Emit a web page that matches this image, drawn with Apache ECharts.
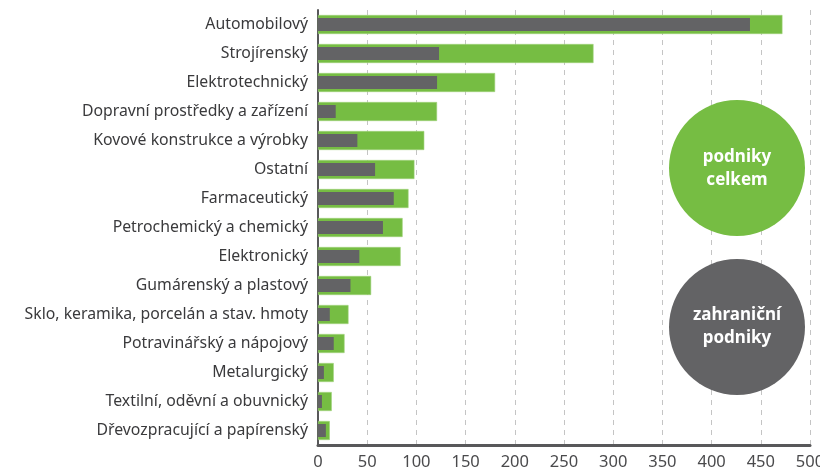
<!DOCTYPE html>
<html>
<head>
<meta charset="utf-8">
<script src="https://cdn.jsdelivr.net/npm/echarts@6/dist/echarts.min.js"></script>
<style>
html, body { margin: 0; padding: 0; background: #fff; }
#chart { width: 820px; height: 471px; }
</style>
</head>
<body>
<div id="chart"></div>
<script>
// odvětví, shora dolů
const categories = [
  'Automobilový', 'Strojírenský', 'Elektrotechnický', 'Dopravní prostředky a zařízení',
  'Kovové konstrukce a výrobky', 'Ostatní', 'Farmaceutický', 'Petrochemický a chemický',
  'Elektronický', 'Gumárenský a plastový', 'Sklo, keramika, porcelán a stav. hmoty',
  'Potravinářský a nápojový', 'Metalurgický', 'Textilní, oděvní a obuvnický',
  'Dřevozpracující a papírenský'
]
const celkem = [472, 280, 180, 121, 108, 98, 92, 86, 84, 54, 31, 27, 16, 14, 12]
const zahranicni = [439, 123, 121, 18, 40, 58, 77, 66, 42, 33, 12, 16, 6, 4, 8]
const xTicks = [0, 50, 100, 150, 200, 250, 300, 350, 400, 450, 500]

const green = '#76bd43'
const grey = '#636365'
const font = 'Noto Sans'

const chart = echarts.init(document.getElementById('chart'))
chart.setOption({
  animation: false,
  grid: { left: 318, right: 10, top: 10, bottom: 26, containLabel: false, outerBoundsMode: 'none' },
  xAxis: {
    type: 'value',
    min: xTicks[0],
    max: xTicks[xTicks.length - 1],
    interval: 50,
    axisLine: { show: true, lineStyle: { color: '#58585a', width: 3 } },
    axisTick: { show: false },
    axisLabel: { color: '#4a4a4c', fontFamily: font, fontSize: 16.5, margin: 9 },
    splitLine: { show: true, lineStyle: { color: '#c4c4c4', type: [5, 5], width: 1 } }
  },
  yAxis: [
    {
      type: 'category',
      data: categories,
      inverse: true,
      axisLine: { show: true, lineStyle: { color: '#58585a', width: 2 } },
      axisTick: { show: false },
      axisLabel: { color: '#3a3a3c', fontFamily: font, fontSize: 15.8, margin: 10 }
    },
    {
      type: 'category',
      data: categories,
      inverse: true,
      show: false
    }
  ],
  series: [
    {
      name: 'podniky celkem',
      type: 'bar',
      yAxisIndex: 0,
      data: celkem,
      barWidth: 19,
      itemStyle: { color: green, borderColor: '#9fd27a', borderWidth: 0.6 }
    },
    {
      name: 'zahraniční podniky',
      type: 'bar',
      yAxisIndex: 1,
      data: zahranicni,
      barWidth: 13,
      itemStyle: { color: grey }
    }
  ],
  graphic: [
    {
      type: 'circle',
      shape: { cx: 737, cy: 168, r: 68 },
      style: { fill: green },
      z: 100
    },
    {
      type: 'text',
      x: 737, y: 169,
      style: {
        text: 'podniky\ncelkem', fill: '#fff', font: 'bold 17px "Noto Sans"',
        align: 'center', verticalAlign: 'middle', lineHeight: 23
      },
      z: 101
    },
    {
      type: 'circle',
      shape: { cx: 737, cy: 327, r: 68 },
      style: { fill: grey },
      z: 100
    },
    {
      type: 'text',
      x: 737, y: 327,
      style: {
        text: 'zahraniční\npodniky', fill: '#fff', font: 'bold 17px "Noto Sans"',
        align: 'center', verticalAlign: 'middle', lineHeight: 23
      },
      z: 101
    }
  ]
})
</script>
</body>
</html>
